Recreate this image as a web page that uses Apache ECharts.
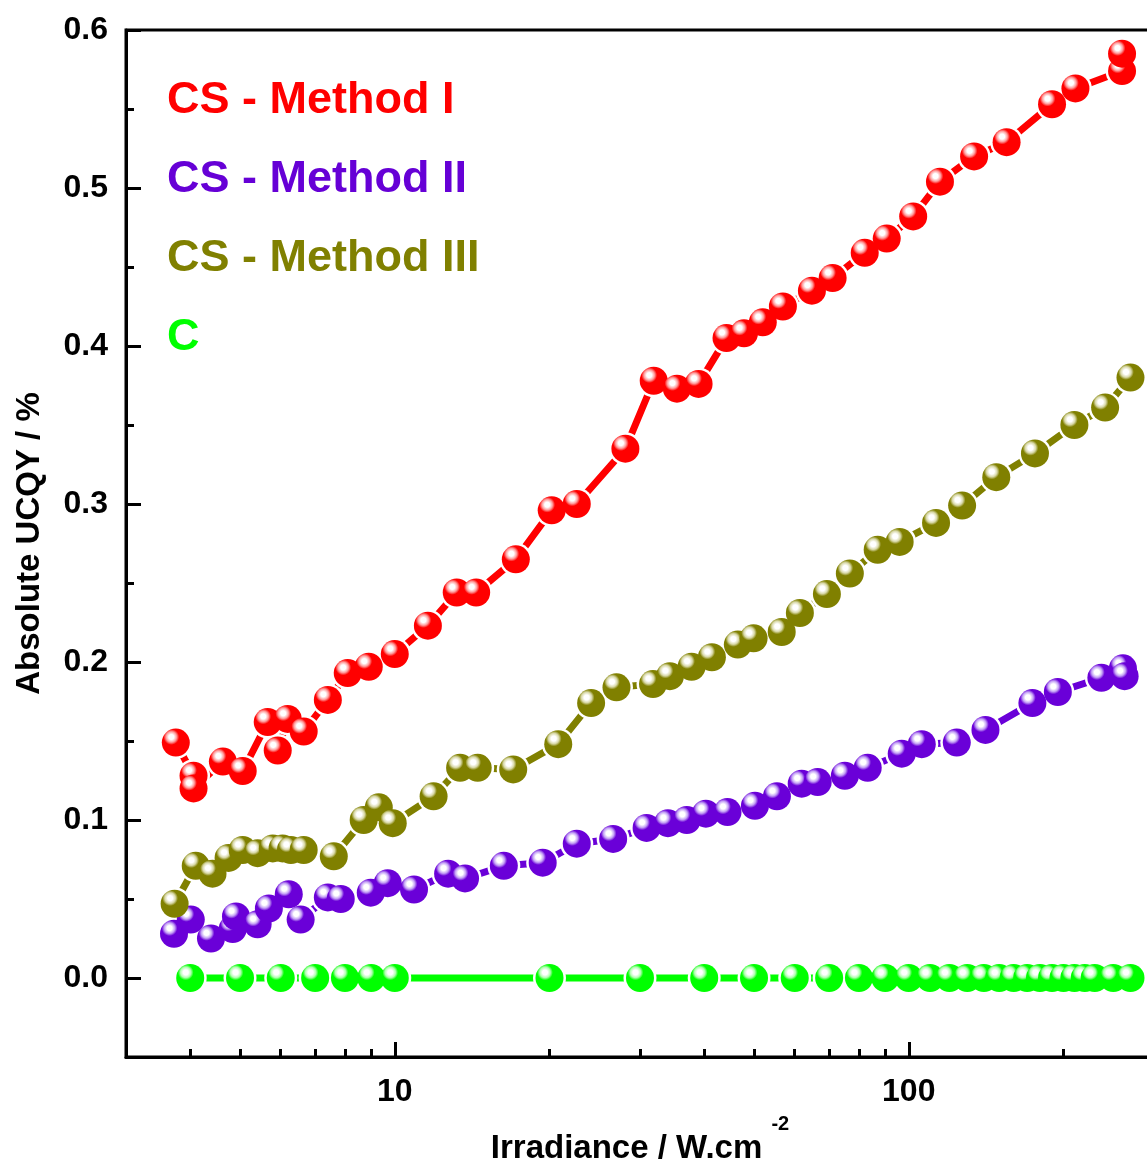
<!DOCTYPE html>
<html>
<head>
<meta charset="utf-8">
<script src="https://cdn.jsdelivr.net/npm/echarts@6.0.0/dist/echarts.min.js"></script>
<style>
  html, body { margin: 0; padding: 0; background: #fff; }
  #chart { width: 1147px; height: 1159px; }
</style>
</head>
<body>
<div id="chart"></div>
<script>
// irradiance (W.cm^-2) and absolute UCQY (%)
const irrMethod1 = [3.75, 4.06, 4.06, 4.63, 5.06, 5.66, 5.92, 6.19, 6.65, 7.41, 8.10, 8.90, 10.0, 11.6, 13.2, 14.4, 17.2, 20.2, 22.6, 28.1,
  31.9, 35.4, 39.0, 44.2, 47.8, 52.0, 56.9, 64.8, 71.1, 82.1, 90.6, 102, 115, 134, 155, 190, 211, 260, 260];
const ucqyMethod1 = [0.149, 0.128, 0.120, 0.137, 0.131, 0.162, 0.144, 0.164, 0.156, 0.176, 0.193, 0.197, 0.205, 0.223, 0.244, 0.244, 0.265, 0.296, 0.300, 0.335,
  0.378, 0.373, 0.376, 0.405, 0.408, 0.415, 0.425, 0.435, 0.443, 0.459, 0.468, 0.482, 0.504, 0.520, 0.529, 0.553, 0.563, 0.574, 0.585];

const irrMethod2 = [3.72, 4.01, 4.39, 4.84, 4.91, 5.41, 5.69, 6.22, 6.56, 7.41, 7.85, 8.98, 9.69, 10.9, 12.7, 13.7, 16.3, 19.4, 22.6, 26.6,
  30.9, 34.0, 37.0, 40.3, 44.4, 50.2, 55.4, 61.9, 66.5, 75.1, 83.2, 96.9, 106, 124, 141, 174, 195, 237, 261, 263];
const ucqyMethod2 = [0.028, 0.037, 0.025, 0.031, 0.039, 0.034, 0.044, 0.053, 0.037, 0.051, 0.050, 0.054, 0.060, 0.056, 0.066, 0.063, 0.071, 0.073, 0.085, 0.088,
  0.095, 0.098, 0.100, 0.104, 0.105, 0.109, 0.115, 0.123, 0.124, 0.128, 0.133, 0.142, 0.148, 0.149, 0.157, 0.174, 0.181, 0.190, 0.196, 0.191];

const irrMethod3 = [3.73, 4.10, 4.42, 4.75, 5.06, 5.41, 5.79, 6.05, 6.28, 6.65, 7.61, 8.70, 9.31, 9.91, 11.9, 13.4, 14.5, 17.0, 20.8, 24.1,
  27.0, 31.8, 34.3, 37.8, 41.4, 46.5, 49.9, 56.6, 61.4, 69.3, 76.8, 87.0, 96.0, 113, 127, 148, 176, 210, 241, 270];
const ucqyMethod3 = [0.047, 0.071, 0.066, 0.076, 0.081, 0.079, 0.082, 0.082, 0.081, 0.081, 0.077, 0.100, 0.108, 0.098, 0.115, 0.133, 0.133, 0.132, 0.148, 0.174,
  0.184, 0.186, 0.191, 0.197, 0.203, 0.211, 0.215, 0.219, 0.231, 0.243, 0.256, 0.271, 0.276, 0.288, 0.299, 0.317, 0.332, 0.350, 0.361, 0.380];

const irrCore = [4, 5, 6, 7, 8, 9, 10, 20, 30, 40, 50, 60, 70, 80, 90, 100, 110, 120, 130, 140, 150, 160, 170, 180, 190, 200, 210, 220, 230, 250, 270];
const ucqyCore = [0, 0, 0, 0, 0, 0, 0, 0, 0, 0, 0, 0, 0, 0, 0, 0, 0, 0, 0, 0, 0, 0, 0, 0, 0, 0, 0, 0, 0, 0, 0];

const seriesNames = ["CS - Method I", "CS - Method II", "CS - Method III", "C"];
const yMajorTicks = [0.0, 0.1, 0.2, 0.3, 0.4, 0.5, 0.6];
const yMinorTicks = [0.05, 0.15, 0.25, 0.35, 0.45, 0.55];
const xMajorTicks = [10, 100];
const xMinorTicks = [4, 5, 6, 7, 8, 9, 20, 30, 40, 50, 60, 70, 80, 90, 200];

const FONT = "'Liberation Sans', Arial, sans-serif";
const lg = v => Math.log10(v);

function pairs(xs, ys) {
  return xs.map((x, i) => [lg(x), ys[i]]);
}

// shaded ball look
function ball(base, shine) {
  return new echarts.graphic.RadialGradient(0.34, 0.3, 0.7, [
    { offset: 0, color: "#ffffff" },
    { offset: 0.13, color: "#ffffff" },
    { offset: 0.27, color: shine },
    { offset: 0.4, color: base },
    { offset: 1, color: base }
  ]);
}

// each data set = connecting line, white gap around the balls, then the balls
function makeSeries(name, xs, ys, base, shine) {
  const data = pairs(xs, ys);
  return [
    {
      name: name + " line",
      type: "line",
      data: data,
      symbol: "none",
      lineStyle: { color: base, width: 7, cap: "butt" },
      z: 1,
      silent: true
    },
    {
      name: name + " gap",
      type: "scatter",
      data: data,
      symbol: "circle",
      symbolSize: 33,
      itemStyle: { color: "#ffffff", opacity: 1 },
      z: 2,
      silent: true
    },
    {
      name: name,
      type: "scatter",
      data: data,
      symbol: "circle",
      symbolSize: 28,
      itemStyle: { color: ball(base, shine), opacity: 1 },
      emphasis: { disabled: true },
      z: 3
    }
  ];
}

const colors = ["#ff0000", "#6600d6", "#808000", "#00ff00"];

const chart = echarts.init(document.getElementById("chart"), null, { renderer: "canvas" });

const boldText = { fontFamily: FONT, fontWeight: "bold", color: "#000" };

chart.setOption({
  backgroundColor: "#fff",
  animation: false,
  grid: {
    left: 126, right: -7, top: 30, bottom: 102,
    show: true, borderColor: "#000", borderWidth: 3,
    outerBoundsMode: "none"
  },
  legend: {
    orient: "vertical",
    left: 157,
    top: 73,
    itemGap: 34,
    itemWidth: 0,
    itemHeight: 0,
    icon: "rect",
    selectedMode: false,
    textStyle: { fontSize: 45, fontWeight: "bold", fontFamily: FONT },
    data: seriesNames.map((n, i) => ({ name: n, textStyle: { color: colors[i] } }))
  },
  xAxis: [
    {
      type: "value",
      min: lg(3),
      max: lg(300),
      position: "bottom",
      axisLine: { show: true, onZero: false, lineStyle: { color: "#000", width: 3 } },
      splitLine: { show: false },
      axisTick: { show: true, inside: true, length: 15, lineStyle: { color: "#000", width: 3 }, customValues: xMajorTicks.map(lg) },
      axisLabel: {
        customValues: xMajorTicks.map(lg),
        formatter: v => String(Math.round(Math.pow(10, v))),
        fontSize: 32, margin: 19, ...boldText
      },
      name: "{a|Irradiance / W.cm }{b|-2}",
      nameLocation: "middle",
      nameGap: 57,
      nameTextStyle: {
        ...boldText,
        rich: {
          a: { fontSize: 33, ...boldText, padding: [18, 0, 0, 0], verticalAlign: "bottom" },
          b: { fontSize: 20, ...boldText, verticalAlign: "top" }
        }
      }
    },
    {
      type: "value",
      min: lg(3),
      max: lg(300),
      position: "bottom",
      axisLine: { show: false, onZero: false },
      splitLine: { show: false },
      axisLabel: { show: false },
      axisTick: { show: true, inside: true, length: 8, lineStyle: { color: "#000", width: 3 }, customValues: xMinorTicks.map(lg) }
    }
  ],
  yAxis: [
    {
      type: "value",
      min: -0.05,
      max: 0.6,
      position: "left",
      axisLine: { show: true, onZero: false, lineStyle: { color: "#000", width: 3 } },
      splitLine: { show: false },
      axisTick: { show: true, inside: true, length: 15, lineStyle: { color: "#000", width: 3 }, customValues: yMajorTicks },
      axisLabel: {
        customValues: yMajorTicks,
        formatter: v => v.toFixed(1),
        fontSize: 32, margin: 18, ...boldText
      },
      name: "Absolute UCQY / %",
      nameLocation: "middle",
      nameRotate: 90,
      nameGap: 80,
      nameTextStyle: { fontSize: 33, ...boldText }
    },
    {
      type: "value",
      min: -0.05,
      max: 0.6,
      position: "left",
      axisLine: { show: false, onZero: false },
      splitLine: { show: false },
      axisLabel: { show: false },
      axisTick: { show: true, inside: true, length: 8, lineStyle: { color: "#000", width: 3 }, customValues: yMinorTicks }
    }
  ],
  series: [].concat(
    makeSeries(seriesNames[0], irrMethod1, ucqyMethod1, colors[0], "#ff9c9c"),
    makeSeries(seriesNames[1], irrMethod2, ucqyMethod2, "#6a00d8", "#c3a0f5"),
    makeSeries(seriesNames[2], irrMethod3, ucqyMethod3, colors[2], "#d8d8a8"),
    makeSeries(seriesNames[3], irrCore, ucqyCore, colors[3], "#b0ffb0")
  )
});
</script>
</body>
</html>
